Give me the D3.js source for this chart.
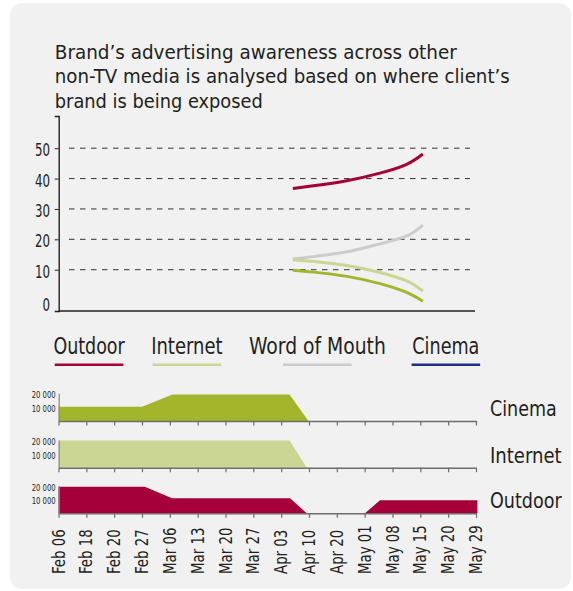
<!DOCTYPE html>
<html>
<head>
<meta charset="utf-8">
<script src="https://cdn.jsdelivr.net/npm/d3@7"></script>
<style>
  html, body { margin: 0; padding: 0; background: #ffffff; }
  svg { display: block; }
  text {
    font-family: "Liberation Sans Narrow", "DejaVu Sans Condensed", "Roboto Condensed", "Liberation Sans", Roboto, sans-serif;
    fill: #231f20;
  }
</style>
</head>
<body>
<svg id="chart" width="573" height="591"></svg>
<script>
// ---------- data ----------
const titleLines = [
  "Brand\u2019s advertising awareness across other",
  "non-TV media is analysed based on where client\u2019s",
  "brand is being exposed"
];

const awarenessTicks = [0, 10, 20, 30, 40, 50];
const gridValues = [10, 20, 30, 40, 50];

const dates = ["Feb 06", "Feb 18", "Feb 20", "Feb 27", "Mar 06", "Mar 13", "Mar 20", "Mar 27",
               "Apr 03", "Apr 10", "Apr 20", "May 01", "May 08", "May 15", "May 20", "May 29"];

// awareness curves, placed on the date axis (position in date steps)
const curvePos             = [8.42, 9.16, 10.36, 11.55, 12.51, 13.09];
const outdoorAwareness     = [36.7, 37.6, 39.3, 41.8, 44.7, 48.1];
const wordOfMouthAwareness = [13.5, 14.3, 15.9, 18.5, 21.1, 24.7];
const internetAwareness    = [13.3, 12.7, 11.4, 9.1, 6.3, 3.0];
const cinemaAwareness      = [9.8, 9.2, 7.8, 5.4, 2.5, -0.4];

// media spend per channel (position in date steps, amount)
const cinemaSpendPos   = [0, 3, 4.1, 8.3, 8.98];
const cinemaSpend      = [10500, 10500, 19500, 19500, 0];
const internetSpendPos = [0, 8.3, 8.92];
const internetSpend    = [20000, 20000, 0];
const outdoorSpendPos  = [0, 3.1, 4.08, 8.32, 8.92, 11.01, 11.55, 15.05];
const outdoorSpend     = [19500, 19500, 11000, 11000, 0, 0, 9500, 9500];
const spendTicks = [10000, 20000];

const legendNames  = ["Outdoor", "Internet", "Word of Mouth", "Cinema"];
const legendColors = ["#a6003a", "#cbd694", "#cccccc", "#1f2e8a"];

// ---------- helpers ----------
const svg = d3.select("#chart");

// squeeze a text element horizontally to a given width
function fitWidth(sel, w) {
  sel.attr("textLength", w).attr("lengthAdjust", "spacingAndGlyphs");
}
// condense a set of labels by the ratio that brings a sample label to a target width
function condense(sel, sampleText, targetW, fontSize) {
  const probe = svg.append("text").attr("font-size", fontSize).text(sampleText);
  const k = targetW / probe.node().getComputedTextLength();
  probe.remove();
  sel.each(function () {
    const n = this.getComputedTextLength();
    d3.select(this).attr("textLength", n * k).attr("lengthAdjust", "spacingAndGlyphs");
  });
}

// ---------- background panel ----------
svg.append("rect")
  .attr("x", 10).attr("y", 3).attr("width", 561).attr("height", 586)
  .attr("rx", 12).attr("ry", 12)
  .attr("fill", "#f1f1f1");

// ---------- title ----------
const titleWidths = [402, 455, 208];
titleLines.forEach((t, i) => {
  svg.append("text")
    .attr("x", 54.8).attr("y", 58.5 + i * 24.9)
    .attr("font-size", 20)
    .text(t)
    .call(fitWidth, titleWidths[i]);
});

// ---------- shared date scale ----------
const x = d3.scaleLinear().domain([0, dates.length - 1]).range([58.5, 476]);

// ---------- awareness chart ----------
const y = d3.scaleLinear().domain([-3.6, 60.6]).range([311, 116]);

// dashed gridlines
svg.append("g").selectAll("line").data(gridValues).join("line")
  .attr("x1", 69).attr("x2", 470)
  .attr("y1", d => y(d)).attr("y2", d => y(d))
  .attr("stroke", "#333").attr("stroke-width", 1)
  .attr("stroke-dasharray", "5.5,5.5");

// left axis with short ticks
const yAxis = svg.append("g")
  .attr("transform", "translate(58.7,0)")
  .call(d3.axisLeft(y).tickValues(gridValues).tickSize(4).tickSizeOuter(4).tickFormat(""));
yAxis.select(".domain").attr("stroke", "#222").attr("stroke-width", 1.4);
yAxis.selectAll(".tick line").attr("stroke", "#222");

// bottom baseline
svg.append("line")
  .attr("x1", 58.7).attr("x2", 475).attr("y1", 311).attr("y2", 311)
  .attr("stroke", "#222").attr("stroke-width", 1.4);

// value labels
const yLabels = svg.append("g").selectAll("text").data(awarenessTicks).join("text")
  .attr("x", 50).attr("y", d => y(d) + (d === 0 ? 5 : 2))
  .attr("dy", "0.35em")
  .attr("text-anchor", "end")
  .attr("font-size", 17)
  .text(d => d);
condense(yLabels, "50", 15, 17);

// curves
const line = d3.line()
  .x(d => x(d[0])).y(d => y(d[1]))
  .curve(d3.curveNatural);

const curves = [
  { values: wordOfMouthAwareness, color: "#cccccc" },
  { values: internetAwareness,    color: "#cbd694" },
  { values: cinemaAwareness,      color: "#a2b52b" },
  { values: outdoorAwareness,     color: "#a6003a" }
];
curves.forEach(c => {
  svg.append("path")
    .datum(curvePos.map((p, i) => [p, c.values[i]]))
    .attr("d", line)
    .attr("fill", "none")
    .attr("stroke", c.color)
    .attr("stroke-width", 3);
});

// ---------- legend ----------
const legend = svg.append("g");
const legendWidths = [71.3, 71.3, 136.8, 67.1];
let lx = 53.4;
legendNames.forEach((name, i) => {
  const w = legendWidths[i];
  legend.append("text")
    .attr("x", lx).attr("y", 354.4)
    .attr("font-size", 23)
    .text(name)
    .call(fitWidth, w);
  const cx = lx + w / 2;
  legend.append("line")
    .attr("x1", cx - 34.3).attr("x2", cx + 34.3)
    .attr("y1", 364.8).attr("y2", 364.8)
    .attr("stroke", legendColors[i]).attr("stroke-width", 2.6);
  lx += w + 26.5;
});

// ---------- spend panels ----------
const panels = [
  { name: "Cinema",   pos: cinemaSpendPos,   values: cinemaSpend,   color: "#a2b52b", base: 421,   labelW: 66.7 },
  { name: "Internet", pos: internetSpendPos, values: internetSpend, color: "#cbd694", base: 467.7, labelW: 71.7 },
  { name: "Outdoor",  pos: outdoorSpendPos,  values: outdoorSpend,  color: "#a6003a", base: 513.3, labelW: 71.7 }
];

const spendFmt = v => d3.format(",")(v).replace(",", " ");

panels.forEach(p => {
  const ys = d3.scaleLinear().domain([0, 20000]).range([p.base, p.base - 27.3]);
  const g = svg.append("g");

  const area = d3.area()
    .x(d => x(d[0])).y0(ys(0)).y1(d => ys(d[1]))
    .curve(d3.curveLinear);
  g.append("path")
    .datum(p.pos.map((q, i) => [q, p.values[i]]))
    .attr("d", area)
    .attr("fill", p.color);

  // date axis with downward ticks
  const xa = g.append("g")
    .attr("transform", `translate(0,${p.base})`)
    .call(d3.axisBottom(x).tickValues(d3.range(dates.length))
      .tickSize(4.5).tickSizeOuter(0).tickFormat(""));
  xa.select(".domain").attr("stroke", "#6d6d6d").attr("stroke-width", 1.5);
  xa.selectAll(".tick line").attr("stroke", "#6d6d6d").attr("stroke-width", 1.2);

  // amount axis
  g.append("line")
    .attr("x1", 59.2).attr("x2", 59.2)
    .attr("y1", ys(20000)).attr("y2", p.base)
    .attr("stroke", "#8a8a8a").attr("stroke-width", 1.2);

  const sl = g.selectAll("text.amt").data(spendTicks).join("text")
    .attr("class", "amt")
    .attr("x", 55.7).attr("y", d => ys(d) + 1.2)
    .attr("dy", "0.35em")
    .attr("text-anchor", "end")
    .attr("font-size", 9.5)
    .text(spendFmt);
  condense(sl, "20 000", 24, 9.5);

  g.append("text")
    .attr("x", 490).attr("y", p.base - 5)
    .attr("font-size", 22)
    .text(p.name)
    .call(fitWidth, p.labelW);
});

// rotated date labels under the last panel
const dl = svg.append("g").selectAll("text").data(dates).join("text")
  .attr("transform", (d, i) => `translate(${x(i)},574) rotate(-90)`)
  .attr("dy", "0.36em")
  .attr("text-anchor", "start")
  .attr("font-size", 17)
  .text(d => d);
condense(dl, "Feb 06", 44.8, 17);
</script>
</body>
</html>
